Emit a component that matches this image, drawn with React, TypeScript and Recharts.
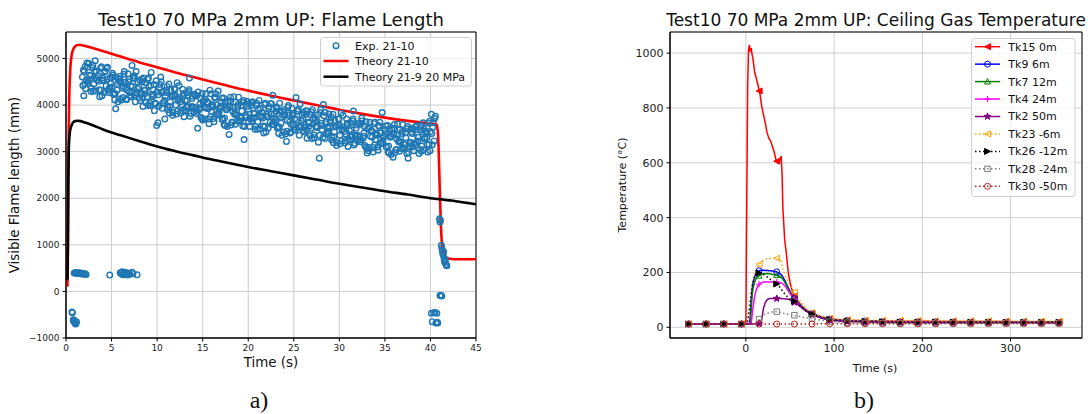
import React from 'react';
import { CartesianGrid, ComposedChart, Line, ReferenceArea, Scatter, XAxis, YAxis } from 'recharts';

const FONT = "'DejaVu Sans', sans-serif";

// ---------- a) Flame length ----------
// experimental flame length, [time s, length mm]
const expPoints: [number, number][] = [
    [0.65, -440], [0.7, -460], [0.8, -610], [0.85, -640], [0.9, -620], [0.95, -660], [1.0, -680], [1.05, -700], [1.1, -690], [1.15, -650],
    [0.9, 395], [1.0, 400], [1.1, 390], [1.2, 400], [1.3, 395], [1.4, 385], [1.5, 400], [1.6, 380], [1.7, 390], [1.8, 375], [1.9, 385], [2.0, 370], [2.1, 380], [2.2, 365],
    [4.8, 350],
    [5.95, 400], [6.05, 380], [6.15, 420], [6.25, 360], [6.35, 390], [6.45, 410], [6.55, 370], [6.65, 400], [6.75, 350], [6.9, 390], [7.0, 370], [7.25, 410], [7.35, 380], [7.8, 355],
    [1.8, 4600], [1.85, 4420], [1.9, 4750], [1.95, 4200],
    [2.0, 4720], [2.15, 4350], [2.3, 4900], [2.45, 4520], [2.6, 4640], [2.75, 4290], [2.9, 4800], [3.05, 4450], [3.2, 4950], [3.35, 4580],
    [3.5, 4620], [3.65, 4330], [3.8, 4790], [3.95, 4200], [4.1, 4540], [4.25, 4710], [4.4, 4410], [4.55, 4810], [4.7, 4270], [4.85, 4590],
    [5.0, 4380], [5.15, 4640], [5.3, 4240], [5.45, 3920], [5.6, 4320], [5.75, 4570], [5.9, 4130], [6.05, 4490], [6.2, 4360], [6.35, 4660],
    [6.5, 4490], [6.65, 4120], [6.8, 4670], [6.95, 4290], [7.1, 4410], [7.25, 4850], [7.4, 4570], [7.55, 4220], [7.7, 4720], [7.85, 4350],
    [8.0, 4390], [8.15, 4100], [8.3, 4560], [8.45, 3970], [8.6, 4310], [8.75, 4480], [8.9, 4180], [9.05, 4580], [9.2, 4040], [9.35, 4700],
    [9.5, 4180], [9.65, 4440], [9.8, 4040], [9.95, 3560], [10.1, 3620], [10.25, 4370], [10.4, 4600], [10.55, 3930], [10.7, 4300], [10.85, 3700],
    [11.0, 4270], [11.15, 3900], [11.3, 4450], [11.45, 4070], [11.6, 4190], [11.75, 3840], [11.9, 4350], [12.05, 4000], [12.2, 4480], [12.35, 4130],
    [12.5, 4170], [12.65, 3880], [12.8, 4340], [12.95, 3750], [13.1, 4090], [13.25, 4260], [13.4, 3960], [13.55, 4580], [13.7, 3820], [13.85, 4140],
    [14.0, 3960], [14.15, 4220], [14.3, 3820], [14.45, 3500], [14.6, 3900], [14.75, 4150], [14.9, 3710], [15.05, 4070], [15.2, 3940], [15.35, 4240],
    [15.5, 4070], [15.65, 3700], [15.8, 4320], [15.95, 3870], [16.1, 3990], [16.25, 3640], [16.4, 4150], [16.55, 3800], [16.7, 4300], [16.85, 3930],
    [17.0, 3980], [17.15, 3690], [17.3, 4150], [17.45, 3560], [17.6, 3900], [17.75, 4070], [17.9, 3370], [18.05, 4170], [18.2, 3630], [18.35, 3950],
    [18.5, 3800], [18.65, 4060], [18.8, 3660], [18.95, 4170], [19.1, 3740], [19.25, 3990], [19.4, 3550], [19.55, 3260], [19.7, 3780], [19.85, 4080],
    [20.0, 3910], [20.15, 3540], [20.3, 4050], [20.45, 3710], [20.6, 3830], [20.75, 3480], [20.9, 3990], [21.05, 3640], [21.2, 4100], [21.35, 3770],
    [21.5, 3840], [21.65, 3550], [21.8, 4010], [21.95, 3420], [22.1, 3760], [22.25, 3930], [22.4, 3630], [22.55, 4030], [22.7, 4210], [22.85, 3810],
    [23.0, 3670], [23.15, 3930], [23.3, 3530], [23.45, 4040], [23.6, 3610], [23.75, 3860], [23.9, 3420], [24.05, 3780], [24.2, 3220], [24.35, 3950],
    [24.5, 3790], [24.65, 3420], [24.8, 3930], [24.95, 3590], [25.1, 3710], [25.25, 4160], [25.4, 3870], [25.55, 3520], [25.7, 4020], [25.85, 3650],
    [26.0, 3710], [26.15, 3420], [26.3, 3880], [26.45, 3290], [26.6, 3630], [26.75, 3800], [26.9, 3500], [27.05, 3900], [27.2, 3360], [27.35, 3680],
    [27.5, 3530], [27.65, 3790], [27.8, 2860], [27.95, 3900], [28.1, 3470], [28.25, 4010], [28.4, 3280], [28.55, 3640], [28.7, 3510], [28.85, 3810],
    [29.0, 3620], [29.15, 3250], [29.3, 3800], [29.45, 3420], [29.6, 3540], [29.75, 3190], [29.9, 3700], [30.05, 3350], [30.2, 3830], [30.35, 3480],
    [30.5, 3530], [30.65, 3240], [30.8, 3700], [30.95, 3110], [31.1, 3450], [31.25, 3620], [31.4, 3320], [31.55, 3870], [31.7, 3180], [31.85, 3500],
    [32.0, 3350], [32.15, 3610], [32.3, 3210], [32.45, 3720], [32.6, 3290], [32.75, 3540], [32.9, 3100], [33.05, 2970], [33.2, 3020], [33.35, 3630],
    [33.5, 3460], [33.65, 3090], [33.8, 3600], [33.95, 3260], [34.1, 3380], [34.25, 3030], [34.4, 3540], [34.55, 3190], [34.7, 3840], [34.85, 3320],
    [35.0, 3390], [35.15, 3100], [35.3, 3560], [35.45, 2970], [35.6, 3310], [35.75, 3480], [35.9, 2880], [36.05, 3580], [36.2, 3040], [36.35, 3360],
    [36.5, 3210], [36.65, 3470], [36.8, 3070], [36.95, 3580], [37.1, 3150], [37.25, 3400], [37.4, 2960], [37.55, 2860], [37.7, 3120], [37.85, 3490],
    [38.0, 3390], [38.15, 3020], [38.3, 3530], [38.45, 3190], [38.6, 3310], [38.75, 2960], [38.9, 3470], [39.05, 3120], [39.2, 3620], [39.35, 3270],
    [39.5, 3440], [39.65, 3150], [39.8, 3610], [39.95, 3020], [40.1, 3800], [40.25, 3520], [40.4, 3230], [40.55, 3760],
    [2.05, 4450], [2.35, 4810], [2.65, 4560], [2.95, 4860], [3.25, 4300], [3.55, 4630], [3.85, 4320], [4.15, 4520], [4.45, 4790], [4.75, 4340],
    [5.05, 4590], [5.35, 4110], [5.65, 4460], [5.95, 4620], [6.25, 4160], [6.55, 4360], [6.85, 4500], [7.15, 4180], [7.45, 4590], [7.75, 4260],
    [8.05, 4150], [8.35, 4500], [8.65, 4240], [8.95, 4550], [9.25, 3990], [9.55, 4330], [9.85, 4020], [10.15, 4220], [10.45, 4500], [10.75, 4050],
    [11.05, 4320], [11.35, 3830], [11.65, 4180], [11.95, 4330], [12.25, 3870], [12.55, 4070], [12.85, 4200], [13.15, 3880], [13.45, 4290], [13.75, 3950],
    [14.05, 3850], [14.35, 4200], [14.65, 3940], [14.95, 4250], [15.25, 3700], [15.55, 4050], [15.85, 3750], [16.15, 3960], [16.45, 4240], [16.75, 3800],
    [17.05, 4060], [17.35, 3580], [17.65, 3930], [17.95, 4090], [18.25, 3630], [18.55, 3830], [18.85, 3970], [19.15, 3650], [19.45, 4060], [19.75, 3730],
    [20.05, 3640], [20.35, 3990], [20.65, 3730], [20.95, 4040], [21.25, 3490], [21.55, 3840], [21.85, 3540], [22.15, 3750], [22.45, 4030], [22.75, 3590],
    [23.05, 3870], [23.35, 3390], [23.65, 3740], [23.95, 3900], [24.25, 3440], [24.55, 3640], [24.85, 3780], [25.15, 3460], [25.45, 3870], [25.75, 3540],
    [26.05, 3450], [26.35, 3800], [26.65, 3540], [26.95, 3850], [27.25, 3300], [27.55, 3650], [27.85, 3350], [28.15, 3560], [28.45, 3840], [28.75, 3400],
    [29.05, 3670], [29.35, 3190], [29.65, 3540], [29.95, 3700], [30.25, 3230], [30.55, 3430], [30.85, 3570], [31.15, 3250], [31.45, 3660], [31.75, 3330],
    [32.05, 3240], [32.35, 3590], [32.65, 3330], [32.95, 3640], [33.25, 3090], [33.55, 3440], [33.85, 3140], [34.15, 3350], [34.45, 3630], [34.75, 3190],
    [35.05, 3470], [35.35, 2990], [35.65, 3340], [35.95, 3500], [36.25, 3040], [36.55, 3240], [36.85, 3390], [37.15, 3070], [37.45, 3490], [37.75, 3170],
    [38.05, 3100], [38.35, 3470], [38.65, 3230], [38.95, 3560], [39.25, 3040], [39.55, 3420], [39.85, 3150], [40.15, 3390], [40.45, 3710],
    [2.1, 4830], [2.4, 4480], [2.7, 4630], [3.0, 4300], [3.3, 4730], [3.6, 4510], [3.9, 4820], [4.2, 4270], [4.5, 4550], [4.8, 4380],
    [5.1, 4680], [5.4, 4250], [5.7, 4070], [6.0, 4510], [6.3, 4400], [6.6, 4130], [6.9, 4550], [7.2, 4260], [7.5, 4630], [7.8, 4270],
    [8.1, 4530], [8.4, 4170], [8.7, 4320], [9.0, 3990], [9.3, 4420], [9.6, 4210], [9.9, 4520], [10.2, 3980], [10.5, 4270], [10.8, 4100],
    [11.1, 4400], [11.4, 3970], [11.7, 3780], [12.0, 4210], [12.3, 4100], [12.6, 3830], [12.9, 4250], [13.2, 3950], [13.5, 4330], [13.8, 3970],
    [14.1, 4230], [14.4, 3870], [14.7, 4020], [15.0, 3680], [15.3, 4120], [15.6, 3920], [15.9, 4240], [16.2, 3710], [16.5, 4000], [16.8, 3840],
    [17.1, 4150], [17.4, 3720], [17.7, 3540], [18.0, 3970], [18.3, 3860], [18.6, 3590], [18.9, 4010], [19.2, 3720], [19.5, 4100], [19.8, 3750],
    [20.1, 4020], [20.4, 3660], [20.7, 3810], [21.0, 3480], [21.3, 3920], [21.6, 3720], [21.9, 4040], [22.2, 3510], [22.5, 3800], [22.8, 3640],
    [23.1, 3960], [23.4, 3530], [23.7, 3350], [24.0, 3780], [24.3, 3670], [24.6, 3400], [24.9, 3820], [25.2, 3530], [25.5, 3910], [25.8, 3560],
    [26.1, 3830], [26.4, 3470], [26.7, 3610], [27.0, 3280], [27.3, 3720], [27.6, 3520], [27.9, 3840], [28.2, 3310], [28.5, 3600], [28.8, 3440],
    [29.1, 3750], [29.4, 3320], [29.7, 3130], [30.0, 3570], [30.3, 3460], [30.6, 3190], [30.9, 3610], [31.2, 3320], [31.5, 3700], [31.8, 3350],
    [32.1, 3610], [32.4, 3250], [32.7, 3400], [33.0, 3070], [33.3, 3510], [33.6, 3310], [33.9, 3630], [34.2, 3100], [34.5, 3400], [34.8, 3240],
    [35.1, 3550], [35.4, 3120], [35.7, 2940], [36.0, 3380], [36.3, 3270], [36.6, 3010], [36.9, 3430], [37.2, 3150], [37.5, 3540], [37.8, 3200],
    [38.1, 3480], [38.4, 3140], [38.7, 3310], [39.0, 3010], [39.3, 3480], [39.6, 3300], [39.9, 3650], [40.2, 3150],
    [2.2, 4530], [2.5, 4890], [2.8, 4360], [3.1, 4720], [3.4, 4540], [3.7, 4180], [4.0, 4580], [4.3, 4730], [4.6, 4320], [4.9, 4460],
    [5.2, 4230], [5.5, 4610], [5.8, 4510], [6.1, 4110], [6.4, 4720], [6.7, 4320], [7.0, 4200], [7.3, 4400], [7.6, 4070], [7.9, 4490],
    [8.2, 4230], [8.5, 4580], [8.8, 4050], [9.1, 4400], [9.4, 4230], [9.7, 3880], [10.0, 4280], [10.3, 4440], [10.6, 4040], [10.9, 4190],
    [11.2, 3950], [11.5, 4320], [11.8, 4210], [12.1, 3810], [12.4, 4420], [12.7, 4010], [13.0, 3900], [13.3, 4100], [13.6, 3760], [13.9, 4190],
    [14.2, 3930], [14.5, 4280], [14.8, 3740], [15.1, 4100], [15.4, 3940], [15.7, 3600], [16.0, 4010], [16.3, 4170], [16.6, 3780], [16.9, 3930],
    [17.2, 3700], [17.5, 4070], [17.8, 3970], [18.1, 3570], [18.4, 4180], [18.7, 3780], [19.0, 3670], [19.3, 3870], [19.6, 3540], [19.9, 3970],
    [20.2, 3720], [20.5, 4070], [20.8, 3540], [21.1, 3900], [21.4, 3740], [21.7, 3400], [22.0, 3800], [22.3, 3970], [22.6, 3580], [22.9, 3730],
    [23.2, 3500], [23.5, 3880], [23.8, 3780], [24.1, 3380], [24.4, 3990], [24.7, 3590], [25.0, 3480], [25.3, 3680], [25.6, 3350], [25.9, 3780],
    [26.2, 3520], [26.5, 3870], [26.8, 3340], [27.1, 3700], [27.4, 3540], [27.7, 3200], [28.0, 3610], [28.3, 3770], [28.6, 3380], [28.9, 3530],
    [29.2, 3300], [29.5, 3670], [29.8, 3570], [30.1, 3170], [30.4, 3780], [30.7, 3380], [31.0, 3270], [31.3, 3470], [31.6, 3140], [31.9, 3570],
    [32.2, 3310], [32.5, 3660], [32.8, 3130], [33.1, 3490], [33.4, 3330], [33.7, 2990], [34.0, 3400], [34.3, 3560], [34.6, 3170], [34.9, 3330],
    [35.2, 3100], [35.5, 3480], [35.8, 3380], [36.1, 2980], [36.4, 3590], [36.7, 3200], [37.0, 3090], [37.3, 3300], [37.6, 2980], [37.9, 3420],
    [38.2, 3180], [38.5, 3550], [38.8, 3050], [39.1, 3430], [39.4, 3300], [39.7, 2990], [40.0, 3430], [40.3, 3620],
    [40.1, -470], [40.2, -650], [40.35, -460], [40.5, -450], [40.6, -680], [40.7, -470], [40.75, -660], [40.8, -680],
    [41.0, 1560], [41.05, 1490], [41.1, 1530],
    [41.05, -90], [41.15, -80], [41.25, -100],
    [41.2, 990], [41.25, 930], [41.3, 880], [41.35, 820], [41.4, 780], [41.45, 850], [41.5, 700], [41.55, 650], [41.6, 620], [41.65, 680], [41.7, 580], [41.75, 560], [41.8, 550],
];

const theoryTime = [
    0.15, 0.2, 0.25, 0.3, 0.35, 0.45, 0.6, 0.8, 1.0, 1.3,
    1.6, 2, 3, 4, 5, 6, 7, 8, 9, 10,
    12, 14, 16, 18, 20, 22.5, 25, 27.5, 30, 32.5,
    35, 37.5, 40, 40.7, 40.85, 40.95, 41.05, 41.15, 41.25, 41.4,
    41.6, 41.9, 42.3, 43, 44, 45,
];
const theory2110 = [
    100, 600, 2400, 3450, 4100, 4700, 5050, 5200, 5260, 5290,
    5290, 5275, 5220, 5160, 5100, 5040, 4980, 4920, 4865, 4810,
    4700, 4600, 4500, 4400, 4310, 4200, 4100, 4000, 3900, 3810,
    3730, 3660, 3600, 3580, 3300, 2700, 2000, 1400, 1050, 850,
    760, 710, 695, 690, 690, 690,
];
const theory219 = [
    250, 900, 2300, 3000, 3250, 3450, 3560, 3630, 3655, 3662,
    3655, 3630, 3560, 3480, 3410, 3350, 3290, 3230, 3170, 3110,
    3010, 2920, 2830, 2750, 2670, 2580, 2490, 2400, 2310, 2230,
    2150, 2080, 2000, 1985, 1982, 1980, 1978, 1976, 1974, 1970,
    1965, 1958, 1950, 1930, 1900, 1870,
];
const flameXTicks = [0, 5, 10, 15, 20, 25, 30, 35, 40, 45];
const flameYTicks = [-1000, 0, 1000, 2000, 3000, 4000, 5000];

// ---------- b) Ceiling gas temperature ----------
const tempTime = [
    -65, -45, -25, -5, 0,
    1, 2, 3, 4, 5, 6, 7, 8,
    10, 12, 14, 15, 16, 18, 20, 22, 24, 26,
    28, 30, 32, 34, 35, 36, 38, 40, 41, 42,
    44, 46, 48, 50, 52, 54, 55, 56, 60, 64,
    68, 72, 75, 80, 86, 90, 95, 105, 115, 125, 135,
    155, 175, 195, 215, 235, 255, 275, 295, 315, 335, 355,
];
const tk15 = [
    12, 12, 12, 12, 14,
    450, 880, 1010, 1030, 1005, 1018, 995, 980,
    930, 905, 880, 862, 850, 805, 775, 745, 710, 690,
    680, 660, 640, 612, 606, 600, 605, 625, 560, 430,
    320, 265, 200, 165, 140, 120, 114, 108, 90, 76,
    64, 55, 50, 44, 38, 35, 31, 28, 26, 25, 24,
    23, 22, 22, 22, 21, 21, 21, 21, 20, 20, 20,
];
const tk9 = [
    12, 12, 12, 12, 12,
    12, 12, 13, 14, 40, 100, 135, 160,
    185, 198, 204, 206, 207, 208, 208, 207, 208, 206,
    206, 205, 204, 203, 202, 200, 197, 192, 188, 183,
    172, 158, 145, 132, 120, 110, 105, 100, 87, 74,
    63, 55, 50, 44, 37, 34, 30, 27, 25, 24, 23,
    21, 20, 20, 20, 19, 19, 19, 19, 19, 18, 18,
];
const tk7 = [
    12, 12, 12, 12, 12,
    12, 12, 12, 13, 14, 60, 110, 140,
    165, 180, 186, 188, 190, 193, 195, 195, 196, 195,
    194, 193, 192, 190, 190, 188, 186, 182, 179, 175,
    165, 153, 140, 128, 117, 108, 104, 99, 86, 73,
    62, 54, 49, 43, 36, 33, 29, 26, 24, 23, 22,
    21, 20, 20, 19, 19, 19, 19, 18, 18, 18, 18,
];
const tk4 = [
    12, 12, 12, 12, 12,
    12, 12, 12, 12, 12, 14, 40, 70,
    115, 140, 153, 157, 160, 163, 165, 165, 165, 165,
    165, 165, 165, 165, 165, 164, 163, 162, 160, 158,
    152, 143, 133, 123, 114, 106, 102, 97, 84, 71,
    60, 52, 47, 41, 34, 31, 27, 25, 23, 22, 21,
    20, 19, 19, 19, 18, 18, 18, 18, 18, 18, 17,
];
const tk2 = [
    12, 12, 12, 12, 12,
    12, 12, 12, 12, 12, 12, 12, 12,
    12, 12, 13, 14, 15, 30, 70, 90, 100, 104,
    105, 105, 105, 105, 105, 105, 105, 105, 104, 104,
    104, 103, 102, 100, 97, 93, 91, 89, 80, 70,
    60, 52, 46, 40, 33, 30, 26, 23, 21, 20, 19,
    18, 18, 17, 17, 17, 17, 17, 17, 16, 16, 16,
];
const tk23 = [
    13, 13, 13, 13, 13,
    13, 20, 35, 60, 95, 130, 152, 170,
    195, 212, 225, 230, 233, 240, 246, 249, 251, 252,
    252, 252, 252, 252, 252, 251, 248, 240, 228, 215,
    190, 178, 165, 152, 142, 133, 128, 122, 103, 85,
    70, 60, 54, 47, 40, 36, 33, 30, 28, 27, 26,
    25, 25, 25, 24, 24, 24, 24, 23, 23, 23, 23,
];
const tk26 = [
    12, 12, 12, 12, 12,
    15, 25, 45, 65, 90, 120, 145, 165,
    183, 193, 197, 198, 198, 196, 192, 188, 184, 179,
    174, 170, 165, 160, 158, 155, 148, 140, 135, 130,
    122, 115, 108, 103, 99, 96, 95, 93, 82, 71,
    60, 53, 48, 42, 35, 32, 28, 25, 23, 22, 21,
    20, 19, 19, 19, 19, 18, 18, 18, 18, 18, 18,
];
const tk28 = [
    12, 12, 12, 12, 12,
    12, 12, 12, 12, 12, 12, 12, 12,
    12, 12, 20, 30, 34, 40, 45, 48, 51, 53,
    55, 56, 57, 57, 57, 56, 55, 53, 52, 52,
    50, 49, 47, 46, 45, 44, 44, 43, 40, 37,
    35, 33, 32, 29, 26, 24, 21, 19, 17, 16, 16,
    15, 15, 15, 15, 15, 15, 15, 15, 15, 15, 15,
];
const tk30 = [
    12, 12, 12, 12, 12,
    12, 12, 12, 12, 12, 12, 12, 12,
    12, 12, 12, 12, 12, 12, 12, 12, 12, 12,
    12, 12, 12, 12, 12, 12, 12, 12, 12, 12,
    12, 12, 12, 12, 12, 12, 12, 12, 12, 12,
    12, 12, 12, 12, 13, 13, 13, 13, 13, 13, 13,
    13, 13, 13, 13, 14, 14, 14, 14, 14, 14, 14,
];
const markerTimes = [-65, -45, -25, -5, 15, 35, 55, 75, 95, 115, 135, 155, 175, 195, 215, 235, 255, 275, 295, 315, 335, 355];
const tempXTicks = [0, 100, 200, 300];
const tempYTicks = [0, 200, 400, 600, 800, 1000];

type Sensor = { key: string; name: string; values: number[]; color: string; dotted: boolean; marker: string; filled: boolean };

const sensors: Sensor[] = [
    { key: 'tk15', name: 'Tk15 0m', values: tk15, color: '#ff0000', dotted: false, marker: 'left', filled: true },
    { key: 'tk9', name: 'Tk9 6m', values: tk9, color: '#0000ff', dotted: false, marker: 'circle', filled: false },
    { key: 'tk7', name: 'Tk7 12m', values: tk7, color: '#008000', dotted: false, marker: 'up', filled: false },
    { key: 'tk4', name: 'Tk4 24m', values: tk4, color: '#ff00ff', dotted: false, marker: 'plus', filled: false },
    { key: 'tk2', name: 'Tk2 50m', values: tk2, color: '#800080', dotted: false, marker: 'star', filled: true },
    { key: 'tk23', name: 'Tk23 -6m', values: tk23, color: '#ffa500', dotted: true, marker: 'left', filled: false },
    { key: 'tk26', name: 'Tk26 -12m', values: tk26, color: '#000000', dotted: true, marker: 'right', filled: true },
    { key: 'tk28', name: 'Tk28 -24m', values: tk28, color: '#808080', dotted: true, marker: 'square', filled: false },
    { key: 'tk30', name: 'Tk30 -50m', values: tk30, color: '#b22222', dotted: true, marker: 'circle', filled: false },
];

const expRows = expPoints.map(([t, v]) => ({ t, v }));
const theoryRows = theoryTime.map((t, i) => ({ t, a: theory2110[i], b: theory219[i] }));
const tempRows = tempTime.map((t, i) => {
    const row: Record<string, number> = { t };
    sensors.forEach((s) => (row[s.key] = s.values[i]));
    return row;
});
const markerSet = new Set(markerTimes);

const minusFmt = (v: number) => (v < 0 ? '\u2212' + Math.abs(v) : String(v));

function markerShape(kind: string, cx: number, cy: number, color: string, filled: boolean) {
    const r = 3;
    const common = { stroke: color, strokeWidth: 1, fill: filled ? color : 'none' };
    switch (kind) {
        case 'circle':
            return <circle cx={cx} cy={cy} r={r} {...common} />;
        case 'square':
            return <rect x={cx - 2.7} y={cy - 2.7} width={5.4} height={5.4} {...common} />;
        case 'left':
            return <polygon points={`${cx - r},${cy} ${cx + r},${cy - r} ${cx + r},${cy + r}`} {...common} />;
        case 'right':
            return <polygon points={`${cx + r},${cy} ${cx - r},${cy - r} ${cx - r},${cy + r}`} {...common} />;
        case 'up':
            return <polygon points={`${cx},${cy - r} ${cx - r},${cy + 2.4} ${cx + r},${cy + 2.4}`} {...common} />;
        case 'plus':
            return <path d={`M${cx - r},${cy}H${cx + r}M${cx},${cy - r}V${cy + r}`} stroke={color} strokeWidth={1.2} />;
        default: {
            const pts: string[] = [];
            for (let k = 0; k < 10; k++) {
                const a = -Math.PI / 2 + (k * Math.PI) / 5;
                const rr = k % 2 ? 1.5 : 3.6;
                pts.push(`${cx + rr * Math.cos(a)},${cy + rr * Math.sin(a)}`);
            }
            return <polygon points={pts.join(' ')} {...common} />;
        }
    }
}

const markerDot = (s: Sensor) => (p: any) => {
    const key = `${s.key}-${p.index}`;
    if (p.cx == null || !markerSet.has(p.payload?.t)) return <g key={key} />;
    return <g key={key}>{markerShape(s.marker, p.cx, p.cy, s.color, s.filled)}</g>;
};

const ExpMarker = (p: any) => <circle cx={p.cx} cy={p.cy} r={2.8} fill="none" stroke="#1f77b4" strokeWidth={1.4} />;

const tickStyle = (size: number) => ({ fontSize: size, fill: '#222', fontFamily: FONT });

function TextAt({ x, y, size, rotate, serif, children }: any) {
    return (
        <div
            style={{
                position: 'absolute',
                left: x,
                top: y,
                transform: `translate(-50%, -50%)${rotate ? ' rotate(-90deg)' : ''}`,
                fontFamily: serif ? "'Liberation Serif', 'Times New Roman', serif" : FONT,
                fontSize: size,
                lineHeight: 1,
                whiteSpace: 'nowrap',
                color: '#111',
            }}
        >
            {children}
        </div>
    );
}

function FlameLegend() {
    const rows = [45.7, 61, 76.7].map((y) => y - 37);
    return (
        <svg width={154} height={51} style={{ position: 'absolute', left: 320, top: 37 }}>
            <rect x={0.5} y={0.5} width={151} height={48.5} rx={3} fill="#fff" fillOpacity={0.8} stroke="#d0d0d0" />
            <circle cx={16} cy={rows[0]} r={2.8} fill="none" stroke="#1f77b4" strokeWidth={1.4} />
            <line x1={3.5} x2={28.5} y1={rows[1]} y2={rows[1]} stroke="#ff0000" strokeWidth={2.5} />
            <line x1={3.5} x2={28.5} y1={rows[2]} y2={rows[2]} stroke="#000" strokeWidth={2.5} />
            {['Exp. 21-10', 'Theory 21-10', 'Theory 21-9 20 MPa'].map((label, i) => (
                <text key={label} x={35} y={rows[i]} dy="0.36em" fontSize={11} fontFamily={FONT} fill="#111">
                    {label}
                </text>
            ))}
        </svg>
    );
}

function TempLegend() {
    return (
        <svg width={106} height={161} style={{ position: 'absolute', left: 971, top: 38 }}>
            <rect x={0.5} y={0.5} width={103.5} height={158} rx={3} fill="#fff" fillOpacity={0.8} stroke="#d0d0d0" />
            {sensors.map((s, i) => {
                const y = 8.7 + i * 17.45;
                return (
                    <g key={s.key}>
                        <line
                            x1={4}
                            x2={29}
                            y1={y}
                            y2={y}
                            stroke={s.color}
                            strokeWidth={1.5}
                            strokeDasharray={s.dotted ? '1.5 2.5' : undefined}
                        />
                        {markerShape(s.marker, 16.5, y, s.color, s.filled)}
                        <text x={37.3} y={y} dy="0.36em" fontSize={11} fontFamily={FONT} fill="#111">
                            {s.name}
                        </text>
                    </g>
                );
            })}
        </svg>
    );
}

export default function App() {
    return (
        <div style={{ position: 'absolute', left: 0, top: 0, width: 1091, height: 414, background: '#fff', overflow: 'hidden' }}>
            <div style={{ position: 'absolute', left: 0, top: 0 }}>
                <ComposedChart width={545} height={414} margin={{ top: 32, right: 69, bottom: 56, left: 16 }}>
                    <CartesianGrid stroke="#cccccc" strokeWidth={1} />
                    <XAxis
                        type="number"
                        dataKey="t"
                        domain={[0, 45]}
                        ticks={flameXTicks}
                        allowDataOverflow
                        height={20}
                        tickSize={3.5}
                        tickMargin={3}
                        tick={tickStyle(9)}
                        axisLine={{ stroke: '#000' }}
                        tickLine={{ stroke: '#000' }}
                    />
                    <YAxis
                        type="number"
                        domain={[-1000, 5568]}
                        ticks={flameYTicks}
                        allowDataOverflow
                        width={50}
                        tickSize={3.5}
                        tickMargin={3}
                        tick={tickStyle(9)}
                        tickFormatter={minusFmt}
                        axisLine={{ stroke: '#000' }}
                        tickLine={{ stroke: '#000' }}
                    />
                    <Scatter data={expRows} dataKey="v" shape={ExpMarker} isAnimationActive={false} />
                    <Line data={theoryRows} dataKey="a" type="monotone" stroke="#ff0000" strokeWidth={2.6} dot={false} activeDot={false} isAnimationActive={false} />
                    <Line data={theoryRows} dataKey="b" type="monotone" stroke="#000000" strokeWidth={2.6} dot={false} activeDot={false} isAnimationActive={false} />
                    <ReferenceArea x1={0} x2={45} y1={-1000} y2={5568} fill="none" stroke="#000" strokeWidth={1} />
                </ComposedChart>
            </div>
            <div style={{ position: 'absolute', left: 545, top: 0 }}>
                <ComposedChart width={546} height={414} data={tempRows} margin={{ top: 32, right: 9, bottom: 56, left: 65 }}>
                    <CartesianGrid stroke="#d0d0d0" strokeWidth={1} />
                    <XAxis
                        type="number"
                        dataKey="t"
                        domain={[-86, 381]}
                        ticks={tempXTicks}
                        allowDataOverflow
                        height={20}
                        tickSize={3.5}
                        tickMargin={3}
                        tick={tickStyle(11)}
                        axisLine={{ stroke: '#000' }}
                        tickLine={{ stroke: '#000' }}
                    />
                    <YAxis
                        type="number"
                        domain={[-39, 1077]}
                        ticks={tempYTicks}
                        allowDataOverflow
                        width={60}
                        tickSize={3.5}
                        tickMargin={3}
                        tick={tickStyle(11)}
                        axisLine={{ stroke: '#000' }}
                        tickLine={{ stroke: '#000' }}
                    />
                    {sensors.map((s) => (
                        <Line
                            key={s.key}
                            dataKey={s.key}
                            type="linear"
                            stroke={s.color}
                            strokeWidth={1.5}
                            strokeDasharray={s.dotted ? '1.5 2.5' : undefined}
                            dot={markerDot(s)}
                            activeDot={false}
                            isAnimationActive={false}
                        />
                    ))}
                    <ReferenceArea x1={-86} x2={381} y1={-39} y2={1077} fill="none" stroke="#000" strokeWidth={1} />
                </ComposedChart>
            </div>

            <TextAt x={271} y={20} size={18}>Test10 70 MPa 2mm UP: Flame Length</TextAt>
            <TextAt x={271} y={363} size={13.4}>Time (s)</TextAt>
            <TextAt x={15} y={185} size={13.4} rotate>Visible Flame length (mm)</TextAt>
            <TextAt x={259} y={400} size={24} serif>a)</TextAt>
            <FlameLegend />

            <TextAt x={876} y={20} size={17}>Test10 70 MPa 2mm UP: Ceiling Gas Temperature</TextAt>
            <TextAt x={875} y={368} size={11}>Time (s)</TextAt>
            <TextAt x={622} y={185} size={11} rotate>Temperature (°C)</TextAt>
            <TextAt x={864} y={400} size={24} serif>b)</TextAt>
            <TempLegend />
        </div>
    );
}
